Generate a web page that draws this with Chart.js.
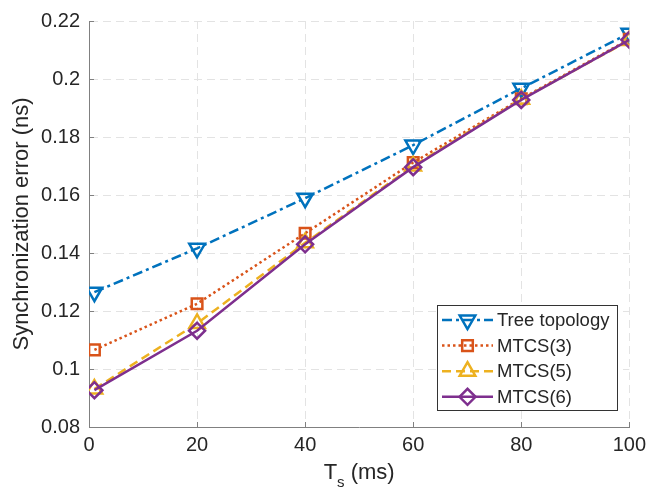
<!DOCTYPE html>
<html lang="en">
<head>
  <meta charset="UTF-8">
  <title>Synchronization error vs T_s</title>
  <style>
    html, body {
      margin: 0;
      padding: 0;
      background: #ffffff;
    }
    #wrap {
      width: 652px;
      height: 500px;
    }
  </style>
</head>
<body>
  <div id="wrap">
    <canvas id="myChart" width="652" height="500"></canvas>
  </div>

  <script src="https://cdn.jsdelivr.net/npm/chart.js"></script>
  <script>
const tsValues = [1, 20, 40, 60, 80, 100];

const treeTopology = [0.1265, 0.1416, 0.1589, 0.1772, 0.1968, 0.2158];
const mtcs3 = [0.1066, 0.1225, 0.1468, 0.1712, 0.1932, 0.2137];
const mtcs5 = [0.0931, 0.1157, 0.1435, 0.1700, 0.1930, 0.2133];
const mtcs6 = [0.0927, 0.1132, 0.1430, 0.1696, 0.1928, 0.2135];

const xTicks = [0, 20, 40, 60, 80, 100];
const xTickLabels = ['0', '20', '40', '60', '80', '100'];
const yTicks = [0.08, 0.10, 0.12, 0.14, 0.16, 0.18, 0.20, 0.22];
const yTickLabels = ['0.08', '0.1', '0.12', '0.14', '0.16', '0.18', '0.2', '0.22'];

const seriesNames = ['Tree topology', 'MTCS(3)', 'MTCS(5)', 'MTCS(6)'];

const FONT = '"Liberation Sans", Arial, Helvetica, sans-serif';
const TEXT = '#262626';

// matlab-ish line specs: -.v  :s  --^  -d
const styles = [
  { color: '#0072BD', dash: [10, 4, 3, 4], point: 'triangle', rot: 180, r: 9 },
  { color: '#D95319', dash: [2.5, 3], point: 'rect', rot: 0, r: 7.5 },
  { color: '#EDB120', dash: [9, 5], point: 'triangle', rot: 0, r: 9 },
  { color: '#7E2F8E', dash: [], point: 'rectRot', rot: 0, r: 8 },
];

function toPoints(values) {
  return values.map((v, i) => ({ x: tsValues[i], y: v }));
}

const allSeries = [treeTopology, mtcs3, mtcs5, mtcs6];

// marker shapes for the legend box
function drawMarker(ctx, shape, rot, r, x, y) {
  ctx.beginPath();
  if (shape === 'triangle') {
    let a = rot * Math.PI / 180;
    for (let k = 0; k < 3; k++) {
      const px = x + Math.sin(a) * r;
      const py = y - Math.cos(a) * r;
      if (k === 0) ctx.moveTo(px, py); else ctx.lineTo(px, py);
      a += 2 * Math.PI / 3;
    }
  } else if (shape === 'rect') {
    const s = Math.SQRT1_2 * r;
    ctx.rect(x - s, y - s, 2 * s, 2 * s);
  } else {
    ctx.moveTo(x - r, y);
    ctx.lineTo(x, y - r);
    ctx.lineTo(x + r, y);
    ctx.lineTo(x, y + r);
  }
  ctx.closePath();
  ctx.stroke();
}

const extras = {
  id: 'extras',
  afterDraw(chart) {
    const ctx = chart.ctx;
    const xs = chart.scales.x;
    const ys = chart.scales.y;
    const area = chart.chartArea;

    // inward tick marks
    ctx.save();
    ctx.strokeStyle = '#808080';
    ctx.lineWidth = 1;
    ctx.beginPath();
    xTicks.forEach(t => {
      const px = Math.round(xs.getPixelForValue(t)) + 0.5;
      ctx.moveTo(px, area.bottom);
      ctx.lineTo(px, area.bottom - 5);
    });
    yTicks.forEach(t => {
      const py = Math.round(ys.getPixelForValue(t)) + 0.5;
      ctx.moveTo(area.left, py);
      ctx.lineTo(area.left + 5, py);
    });
    ctx.stroke();
    ctx.restore();

    // x axis title with subscript
    ctx.save();
    ctx.fillStyle = TEXT;
    ctx.textBaseline = 'alphabetic';
    ctx.textAlign = 'left';
    const big = '22px ' + FONT;
    const small = '15px ' + FONT;
    ctx.font = big;
    const wT = ctx.measureText('T').width;
    const wRest = ctx.measureText(' (ms)').width;
    ctx.font = small;
    const wS = ctx.measureText('s').width;
    let cx = (area.left + area.right) / 2 - (wT + wS + wRest) / 2;
    const base = 479;
    ctx.font = big;
    ctx.fillText('T', cx, base);
    cx += wT;
    ctx.font = small;
    ctx.fillText('s', cx, base + 8);
    cx += wS;
    ctx.font = big;
    ctx.fillText(' (ms)', cx, base);
    ctx.restore();

    // legend
    const bx = 437.5, by = 305.5, bw = 180, bh = 105;
    ctx.save();
    ctx.fillStyle = '#ffffff';
    ctx.fillRect(bx, by, bw, bh);
    ctx.strokeStyle = '#333333';
    ctx.lineWidth = 1;
    ctx.strokeRect(bx, by, bw, bh);
    ctx.font = '18.5px ' + FONT;
    ctx.textBaseline = 'middle';
    ctx.textAlign = 'left';
    seriesNames.forEach((name, i) => {
      const st = styles[i];
      const rowY = 320 + i * 25.6;
      ctx.strokeStyle = st.color;
      ctx.lineWidth = 2.5;
      ctx.setLineDash(st.dash);
      ctx.beginPath();
      ctx.moveTo(442, rowY);
      ctx.lineTo(493, rowY);
      ctx.stroke();
      ctx.setLineDash([]);
      drawMarker(ctx, st.point, st.rot, st.r, 467.5, rowY);
      ctx.fillStyle = TEXT;
      ctx.fillText(name, 497, rowY + 1);
    });
    ctx.restore();
  }
};

const ctx = document.getElementById('myChart').getContext('2d');

const chart = new Chart(ctx, {
  type: 'line',
  data: {
    datasets: allSeries.map((values, i) => ({
      label: seriesNames[i],
      data: toPoints(values),
      borderColor: styles[i].color,
      borderWidth: 2.5,
      borderDash: styles[i].dash,
      borderCapStyle: 'butt',
      fill: false,
      tension: 0,
      pointStyle: styles[i].point,
      pointRotation: styles[i].rot,
      pointRadius: styles[i].r,
      pointHoverRadius: styles[i].r,
      pointBorderWidth: 2.5,
      pointBorderColor: styles[i].color,
      pointBackgroundColor: 'rgba(0,0,0,0)',
      order: allSeries.length - i,
    })),
  },
  options: {
    responsive: false,
    animation: false,
    devicePixelRatio: 1,
    layout: {
      padding: { left: 0, top: 15, right: 20, bottom: 0 }
    },
    plugins: {
      legend: { display: false },
      tooltip: { enabled: false },
      title: { display: false },
    },
    scales: {
      x: {
        type: 'linear',
        min: 0,
        max: 100,
        afterBuildTicks: scale => {
          scale.ticks = xTicks.map(v => ({ value: v }));
        },
        afterFit: scale => {
          scale.height = 73;
        },
        ticks: {
          autoSkip: false,
          maxRotation: 0,
          padding: 6,
          color: TEXT,
          font: { family: FONT, size: 20 },
          callback: (value, index) => xTickLabels[index],
        },
        grid: {
          color: '#e3e3e3',
          lineWidth: 1,
          drawTicks: false,
        },
        border: {
          display: true,
          color: '#808080',
          width: 1,
          dash: [8, 5],
        },
      },
      y: {
        type: 'linear',
        min: 0.08,
        max: 0.22,
        afterBuildTicks: scale => {
          scale.ticks = yTicks.map(v => ({ value: v }));
        },
        afterFit: scale => {
          scale.width = 89;
        },
        ticks: {
          autoSkip: false,
          padding: 9,
          color: TEXT,
          font: { family: FONT, size: 20 },
          callback: (value, index) => yTickLabels[index],
        },
        grid: {
          color: '#e3e3e3',
          lineWidth: 1,
          drawTicks: false,
        },
        border: {
          display: true,
          color: '#808080',
          width: 1,
          dash: [8, 5],
        },
        title: {
          display: true,
          text: 'Synchronization error (ns)',
          color: TEXT,
          padding: { top: 9, bottom: 0 },
          font: { family: FONT, size: 22, lineHeight: 1.2 },
        },
      },
    },
  },
  plugins: [extras],
});
  </script>
</body>
</html>
